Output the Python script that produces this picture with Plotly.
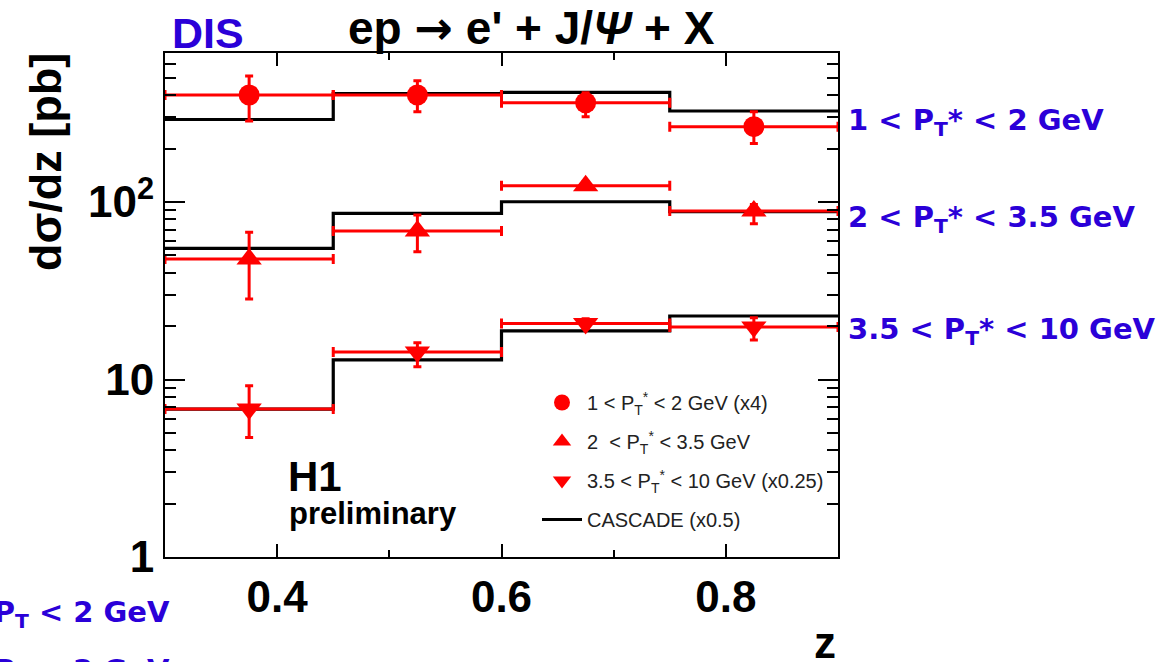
import plotly.graph_objects as go

# ---------------- data ----------------
z_centers = [0.375, 0.525, 0.675, 0.825]
bin_edges = [0.3, 0.45, 0.6, 0.75, 0.9]
bin_half = [0.075, 0.075, 0.075, 0.075]

# 1 < PT* < 2 GeV (x4)
sig_low = [401, 401, 363, 266]
sig_low_up = [112, 81, 50, 57]
sig_low_dn = [115, 78, 60, 52]

# 2 < PT* < 3.5 GeV
sig_mid = [47.7, 68.6, 123.6, 89.0]
sig_mid_up = [19.8, 15.9, 6.0, 8.0]
sig_mid_dn = [19.3, 16.1, 6.0, 13.6]

# 3.5 < PT* < 10 GeV (x0.25)
sig_high = [6.82, 14.3, 20.7, 19.8]
sig_high_up = [2.4, 1.8, 1.3, 2.5]
sig_high_dn = [2.1, 2.5, 1.3, 3.1]

# CASCADE (x0.5)
casc_low = [292, 408, 415, 326]
casc_mid = [54.8, 86.3, 100.4, 88.2]
casc_high = [6.82, 12.9, 18.8, 22.8]

y_tickvals = [1, 10, 100]
y_ticktext = ["1", "10", "10<sup>2</sup>"]
y_minor = [2, 3, 4, 5, 6, 7, 8, 9, 20, 30, 40, 50, 60, 70, 80, 90, 200, 300, 400, 500, 600]
x_tickvals = [0.4, 0.6, 0.8]
x_ticktext = ["0.4", "0.6", "0.8"]
x_minor = [0.5, 0.7]

legend_labels = [
    "1 &lt; P<sub>T</sub><sup>*</sup> &lt; 2 GeV (x4)",
    "2  &lt; P<sub>T</sub><sup>*</sup> &lt; 3.5 GeV",
    "3.5 &lt; P<sub>T</sub><sup>*</sup> &lt; 10 GeV (x0.25)",
    "CASCADE (x0.5)",
]
side_labels = [
    "1 &lt; P<sub>T</sub>* &lt; 2 GeV",
    "2 &lt; P<sub>T</sub>* &lt; 3.5 GeV",
    "3.5 &lt; P<sub>T</sub>* &lt; 10 GeV",
]
corner_labels = [
    "1 &lt; P<sub>T</sub> &lt; 2 GeV",
    "2 &lt; P<sub>T</sub> &lt; 2 GeV",
]

RED = "#ff0000"
BLUE = "#2a00d8"
BOLD = "Liberation Sans"
W, H = 1164, 662
L, R, T, B = 165, 838, 53, 557

fig = go.Figure()

def steps(vals):
    return vals + [vals[-1]]

for i, casc in enumerate([casc_low, casc_mid, casc_high]):
    fig.add_trace(go.Scatter(
        x=bin_edges, y=steps(casc), mode="lines", line_shape="hv",
        line=dict(color="black", width=3.2),
        name=legend_labels[3], legendgroup="g4", showlegend=(i == 0),
        legendrank=4,
    ))

series = [
    (sig_low, sig_low_up, sig_low_dn, "circle", 21, 1),
    (sig_mid, sig_mid_up, sig_mid_dn, "triangle-up", 22, 2),
    (sig_high, sig_high_up, sig_high_dn, "triangle-down", 22, 3),
]
for vals, up, dn, sym, size, rank in series:
    fig.add_trace(go.Scatter(
        x=z_centers, y=vals, mode="markers",
        marker=dict(symbol=sym, size=size, color=RED, line=dict(width=0)),
        error_x=dict(type="data", array=bin_half, color=RED, thickness=3, width=5),
        error_y=dict(type="data", array=up, arrayminus=dn, color=RED, thickness=3, width=4),
        name=legend_labels[rank - 1], legendgroup=f"g{rank}", legendrank=rank,
    ))

def px(xp):
    return (xp - L) / (R - L)

def py(yp):
    return (B - yp) / (B - T)

title_txt = "ep <span style=\"font-family:'DejaVu Sans'\">→</span> e' + J/<i>Ψ</i> + X"
annotations = [
    dict(text="DIS", x=px(208), y=py(33), font=dict(family=BOLD, size=43, color=BLUE, weight="bold")),
    dict(text=title_txt, x=px(531), y=py(28), font=dict(family=BOLD, size=46, color="black", weight="bold")),
    dict(text="dσ/dz [pb]", x=px(45), y=py(162), textangle=-90, font=dict(family=BOLD, size=45, color="black", weight="bold")),
    dict(text="z", x=px(825), y=py(642), font=dict(family=BOLD, size=44, color="black", weight="bold")),
    dict(text="H1", x=px(286), y=py(476), xanchor="left", font=dict(family=BOLD, size=42, color="black", weight="bold")),
    dict(text="preliminary", x=px(287), y=py(513), xanchor="left", font=dict(family=BOLD, size=31, color="black", weight="bold")),
    dict(text=side_labels[0], x=px(846), y=py(122), xanchor="left", font=dict(family="DejaVu Sans", size=29, color=BLUE, weight="bold")),
    dict(text=side_labels[1], x=px(846), y=py(219), xanchor="left", font=dict(family="DejaVu Sans", size=29, color=BLUE, weight="bold")),
    dict(text=side_labels[2], x=px(846), y=py(331), xanchor="left", font=dict(family="DejaVu Sans", size=29, color=BLUE, weight="bold")),
    dict(text=corner_labels[0], x=px(172), y=py(614), xanchor="right", font=dict(family="DejaVu Sans", size=29, color=BLUE, weight="bold")),
    dict(text=corner_labels[1], x=px(172), y=py(651), xanchor="right", yanchor="top", font=dict(family="DejaVu Sans", size=29, color=BLUE, weight="bold")),
]
for a in annotations:
    a.update(xref="paper", yref="paper", showarrow=False)
    a.setdefault("xanchor", "center")
    a.setdefault("yanchor", "middle")

fig.update_layout(
    width=W, height=H,
    margin=dict(l=L, r=W - R, t=T, b=H - B, pad=0),
    paper_bgcolor="white", plot_bgcolor="white",
    annotations=annotations,
    showlegend=True,
    legend=dict(
        x=px(537), y=py(383), xanchor="left", yanchor="top",
        bgcolor="rgba(0,0,0,0)", borderwidth=0,
        font=dict(family="Liberation Sans", size=20, color="#222222"),
        traceorder="grouped", tracegroupgap=10, itemwidth=40,
    ),
    xaxis=dict(
        range=[0.3, 0.9], showgrid=False, zeroline=False,
        showline=True, linecolor="black", linewidth=2, mirror="ticks",
        ticks="inside", ticklen=13, tickwidth=2, tickcolor="black",
        tickmode="array", tickvals=x_tickvals, ticktext=x_ticktext,
        tickfont=dict(family=BOLD, size=44, color="black", weight="bold"),
        minor=dict(ticks="inside", ticklen=7, tickwidth=2, tickcolor="black",
                   tickmode="array", tickvals=x_minor, showgrid=False),
    ),
    yaxis=dict(
        type="log", range=[0, 2.84], showgrid=False, zeroline=False,
        showline=True, linecolor="black", linewidth=2, mirror="ticks",
        ticks="inside", ticklen=20, tickwidth=2, tickcolor="black",
        tickmode="array", tickvals=y_tickvals, ticktext=y_ticktext,
        tickfont=dict(family=BOLD, size=44, color="black", weight="bold"),
        minor=dict(ticks="inside", ticklen=11, tickwidth=2, tickcolor="black",
                   tickmode="array", tickvals=y_minor, showgrid=False),
    ),
)

fig.write_html(
    "out.html",
    config={"displayModeBar": False},
    post_script="document.body.style.margin='0';document.body.style.overflow='hidden';",
)
